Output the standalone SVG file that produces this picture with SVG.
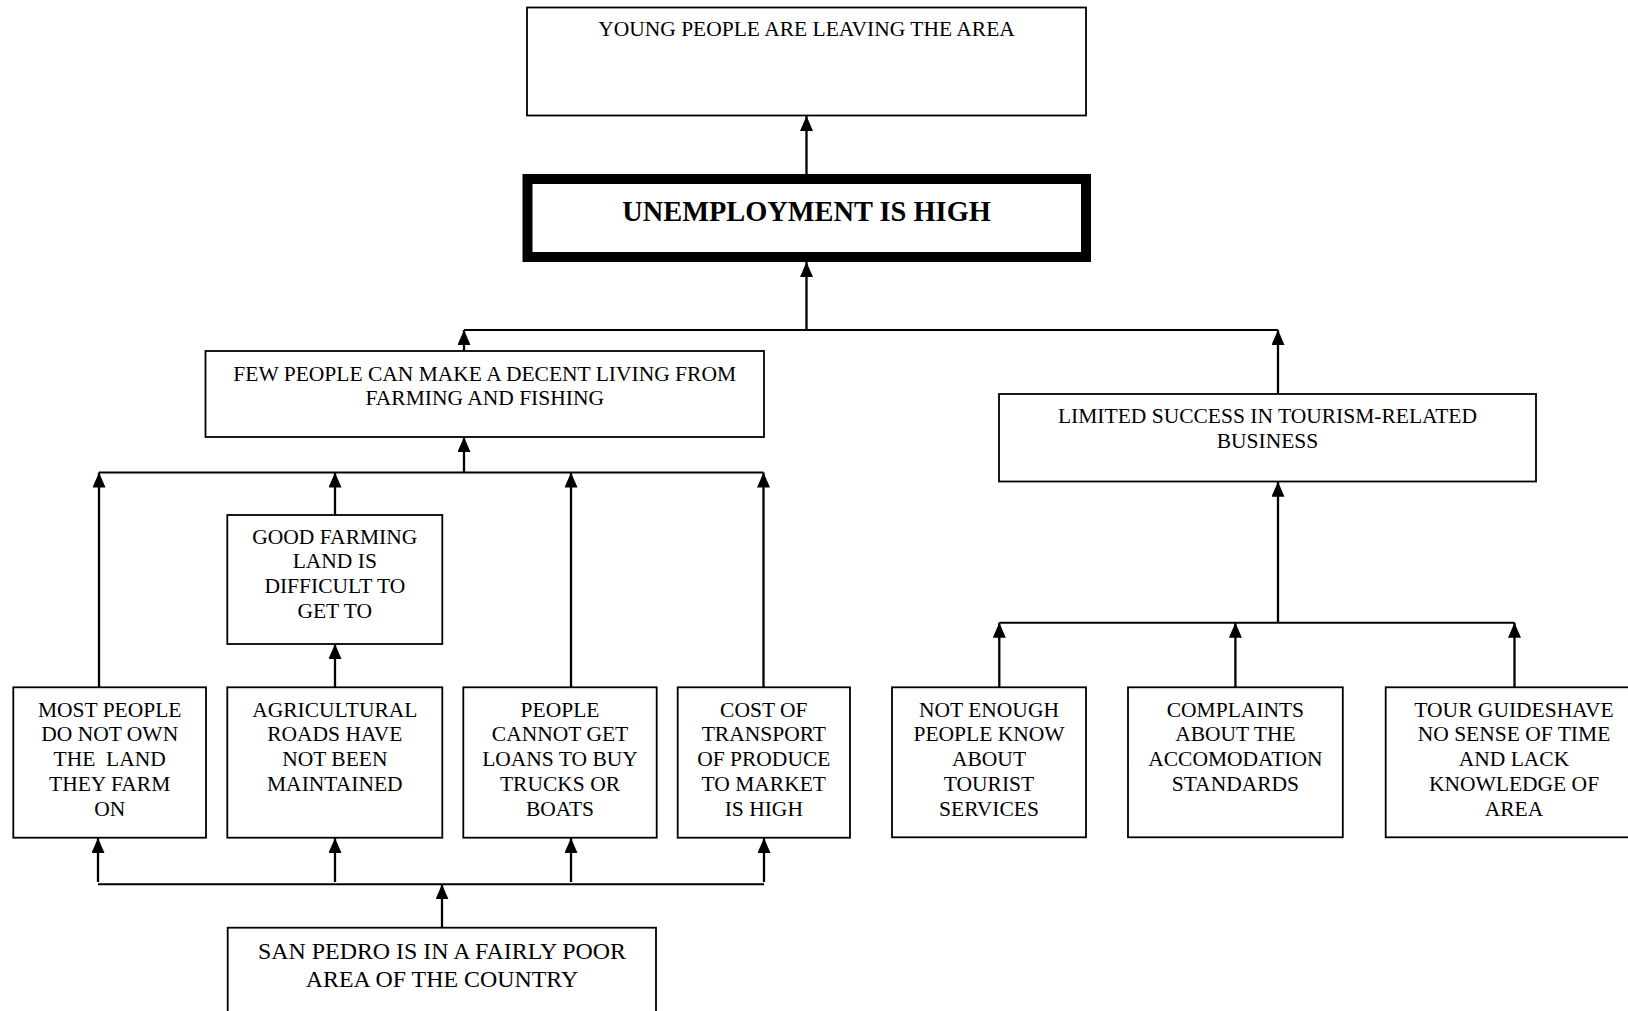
<svg xmlns="http://www.w3.org/2000/svg" width="1628" height="1011" viewBox="0 0 1628 1011">
  <style>
    .box { fill: #ffffff; stroke: #000000; stroke-width: 1.8; }
    .core { fill: #ffffff; stroke: #000000; stroke-width: 10; }
    .link { fill: none; stroke: #000000; stroke-width: 2.3; }
    .bar { fill: none; stroke: #000000; stroke-width: 2; }
    text { font-family: "Liberation Serif", "Times New Roman", serif; font-size: 21.5px; fill: #000000; text-anchor: middle; white-space: pre; }
    .title { font-size: 28.4px; font-weight: bold; }
    .big { font-size: 23.9px; }
  </style>
  <defs>
    <marker id="arrow" viewBox="0 0 15 13" refX="15" refY="6.5" markerWidth="15" markerHeight="13" markerUnits="userSpaceOnUse" orient="auto">
      <path d="M0,0 L15,6.5 L0,13 z" fill="#000000"/>
    </marker>
  </defs>
  <rect width="1628" height="1011" fill="#ffffff"/>

  <!-- connectors -->
  <g id="connectors">
    <!-- core problem to effect -->
    <line class="link" x1="806.5" y1="174" x2="806.5" y2="116" marker-end="url(#arrow)"/>
    <!-- first-level causes to core problem -->
    <line class="link" x1="806.5" y1="330" x2="806.5" y2="262" marker-end="url(#arrow)"/>
    <line class="bar" x1="464" y1="330" x2="1278" y2="330"/>
    <line class="link" x1="464" y1="351" x2="464" y2="330" marker-end="url(#arrow)"/>
    <line class="link" x1="1278" y1="394" x2="1278" y2="330" marker-end="url(#arrow)"/>
    <!-- farming and fishing branch -->
    <line class="link" x1="464" y1="472.5" x2="464" y2="437" marker-end="url(#arrow)"/>
    <line class="bar" x1="99" y1="472.5" x2="763.5" y2="472.5"/>
    <line class="link" x1="99" y1="687" x2="99" y2="472.5" marker-end="url(#arrow)"/>
    <line class="link" x1="335" y1="515" x2="335" y2="472.5" marker-end="url(#arrow)"/>
    <line class="link" x1="571" y1="687" x2="571" y2="472.5" marker-end="url(#arrow)"/>
    <line class="link" x1="763.5" y1="687" x2="763.5" y2="472.5" marker-end="url(#arrow)"/>
    <line class="link" x1="335" y1="687" x2="335" y2="644" marker-end="url(#arrow)"/>
    <!-- root cause fan-out -->
    <line class="bar" x1="98" y1="884.3" x2="764" y2="884.3"/>
    <line class="link" x1="442" y1="928" x2="442" y2="884.3" marker-end="url(#arrow)"/>
    <line class="link" x1="98" y1="882" x2="98" y2="838" marker-end="url(#arrow)"/>
    <line class="link" x1="335" y1="882" x2="335" y2="838" marker-end="url(#arrow)"/>
    <line class="link" x1="571" y1="882" x2="571" y2="838" marker-end="url(#arrow)"/>
    <line class="link" x1="764" y1="882" x2="764" y2="838" marker-end="url(#arrow)"/>
    <!-- tourism branch -->
    <line class="link" x1="1278" y1="622.7" x2="1278" y2="481.7" marker-end="url(#arrow)"/>
    <line class="bar" x1="999.3" y1="622.7" x2="1514.5" y2="622.7"/>
    <line class="link" x1="999.3" y1="687" x2="999.3" y2="622.7" marker-end="url(#arrow)"/>
    <line class="link" x1="1235.4" y1="687" x2="1235.4" y2="622.7" marker-end="url(#arrow)"/>
    <line class="link" x1="1514.5" y1="687" x2="1514.5" y2="622.7" marker-end="url(#arrow)"/>
  </g>

  <g id="young-people-leaving">
    <rect class="box" x="527" y="7.5" width="559" height="108"/>
    <text x="806.5" y="36">YOUNG PEOPLE ARE LEAVING THE AREA</text>
  </g>

  <g id="unemployment-high">
    <rect class="core" x="527.5" y="179" width="558.5" height="78"/>
    <text class="title" x="806.5" y="221">UNEMPLOYMENT IS HIGH</text>
  </g>

  <g id="farming-fishing">
    <rect class="box" x="205.5" y="351" width="558.5" height="86"/>
    <text x="484.7" y="380.7">FEW PEOPLE CAN MAKE A DECENT LIVING FROM</text>
    <text x="484.7" y="405">FARMING AND FISHING</text>
  </g>

  <g id="tourism-business">
    <rect class="box" x="999" y="394" width="537" height="87.5"/>
    <text x="1267.5" y="423">LIMITED SUCCESS IN TOURISM-RELATED</text>
    <text x="1267.5" y="448">BUSINESS</text>
  </g>

  <g id="farming-land">
    <rect class="box" x="227.3" y="515" width="215" height="129"/>
    <text x="334.8" y="543.5">GOOD FARMING</text>
    <text x="334.8" y="568.4">LAND IS</text>
    <text x="334.8" y="593.3">DIFFICULT TO</text>
    <text x="334.8" y="618.2">GET TO</text>
  </g>

  <g id="land-ownership">
    <rect class="box" x="13.3" y="687.3" width="192.7" height="150.4"/>
    <text x="109.7" y="716.5">MOST PEOPLE</text>
    <text x="109.7" y="741.3">DO NOT OWN</text>
    <text x="109.7" y="766.1">THE  LAND</text>
    <text x="109.7" y="790.9">THEY FARM</text>
    <text x="109.7" y="815.7">ON</text>
  </g>

  <g id="agricultural-roads">
    <rect class="box" x="227.3" y="687.3" width="215" height="150.4"/>
    <text x="334.8" y="716.5">AGRICULTURAL</text>
    <text x="334.8" y="741.3">ROADS HAVE</text>
    <text x="334.8" y="766.1">NOT BEEN</text>
    <text x="334.8" y="790.9">MAINTAINED</text>
  </g>

  <g id="loans">
    <rect class="box" x="463.3" y="687.3" width="193.4" height="150.4"/>
    <text x="560" y="716.5">PEOPLE</text>
    <text x="560" y="741.3">CANNOT GET</text>
    <text x="560" y="766.1">LOANS TO BUY</text>
    <text x="560" y="790.9">TRUCKS OR</text>
    <text x="560" y="815.7">BOATS</text>
  </g>

  <g id="transport-cost">
    <rect class="box" x="677.7" y="687.3" width="172.3" height="150.4"/>
    <text x="763.8" y="716.5">COST OF</text>
    <text x="763.8" y="741.3">TRANSPORT</text>
    <text x="763.8" y="766.1">OF PRODUCE</text>
    <text x="763.8" y="790.9">TO MARKET</text>
    <text x="763.8" y="815.7">IS HIGH</text>
  </g>

  <g id="tourist-services">
    <rect class="box" x="892" y="687.3" width="194" height="150"/>
    <text x="989" y="716.5">NOT ENOUGH</text>
    <text x="989" y="741.3">PEOPLE KNOW</text>
    <text x="989" y="766.1">ABOUT</text>
    <text x="989" y="790.9">TOURIST</text>
    <text x="989" y="815.7">SERVICES</text>
  </g>

  <g id="accommodation">
    <rect class="box" x="1128" y="687.3" width="214.8" height="150"/>
    <text x="1235.4" y="716.5">COMPLAINTS</text>
    <text x="1235.4" y="741.3">ABOUT THE</text>
    <text x="1235.4" y="766.1">ACCOMODATION</text>
    <text x="1235.4" y="790.9">STANDARDS</text>
  </g>

  <g id="tour-guides">
    <rect class="box" x="1385.7" y="687.3" width="300" height="150"/>
    <text x="1514" y="716.5">TOUR GUIDESHAVE</text>
    <text x="1514" y="741.3">NO SENSE OF TIME</text>
    <text x="1514" y="766.1">AND LACK</text>
    <text x="1514" y="790.9">KNOWLEDGE OF</text>
    <text x="1514" y="815.7">AREA</text>
  </g>

  <g id="poor-area">
    <rect class="box" x="227.7" y="927.7" width="428.3" height="120"/>
    <text class="big" x="442" y="958.5">SAN PEDRO IS IN A FAIRLY POOR</text>
    <text class="big" x="442" y="986.5">AREA OF THE COUNTRY</text>
  </g>
</svg>
